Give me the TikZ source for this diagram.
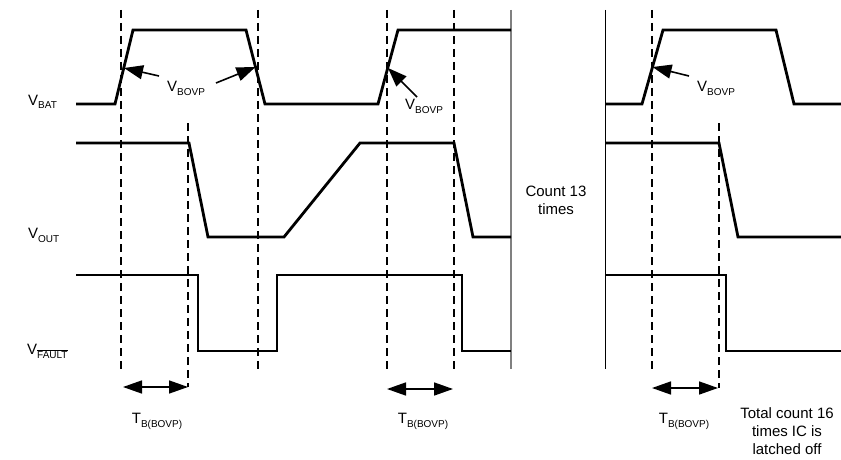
\documentclass[tikz,border=0pt]{standalone}
\usepackage{fontspec}
\setmainfont{Liberation Sans}
\usetikzlibrary{arrows.meta}
\newcommand{\sbs}[1]{\raisebox{-4pt}{\fontsize{10}{12}\selectfont #1}}
\begin{document}
\begin{tikzpicture}[x=1pt,y=-1pt,
  trace/.style={line width=2.8pt, line join=miter},
  guide/.style={line width=1.2pt, dash pattern=on 8pt off 5pt},
  lbl/.style={inner sep=0pt, anchor=base west, font=\fontsize{15}{18}\selectfont},
  tlbl/.style={inner sep=0pt, anchor=base, font=\fontsize{15}{18}\selectfont},
  note/.style={inner sep=0pt, anchor=north, align=center, font=\fontsize{15}{18}\selectfont},
  ptr/.style={line width=1.6pt, -{Triangle[length=19pt,width=14pt]}},
  spanarrow/.style={line width=1.6pt, {Triangle[length=19pt,width=13pt]}-{Triangle[length=19pt,width=13pt]}},
]
\useasboundingbox (0,0) rectangle (841,460);

% guide lines
\draw[guide] (121,10) -- (121,373);
\draw[guide] (188,123) -- (188,387);
\draw[guide] (258,10) -- (258,373);
\draw[guide] (387,10) -- (387,373);
\draw[guide] (454,10) -- (454,373);
\draw[guide] (652,10) -- (652,373);
\draw[guide] (719,123) -- (719,388);
\draw[line width=1.3pt, black!50] (511,10) -- (511,369);
\draw[line width=1pt] (605,10) -- (605,369);

% VBAT
\draw[trace] (76,104) -- (115,104) -- (133,30) -- (246,30) -- (265,104) -- (378,104) -- (398,30) -- (511,30);
\draw[trace] (605,104) -- (642,104) -- (663,30) -- (776,30) -- (794,104) -- (841,104);
% VOUT
\draw[trace] (76,143) -- (189,143) -- (208,237) -- (284,237) -- (360,143) -- (454,143) -- (473,237) -- (511,237);
\draw[trace] (605,143) -- (719,143) -- (738,237) -- (841,237);
% VFAULT
\draw[trace] (76,275) -- (198,275) -- (198,351) -- (277,351) -- (277,275) -- (462,275) -- (462,351) -- (511,351);
\draw[trace] (605,275) -- (726,275) -- (726,351) -- (841,351);

% labels
\node[lbl] (vbat) at (28,105) {V\sbs{BAT}};
\node[lbl] (vout) at (28,238) {V\sbs{OUT}};
\node[lbl] (vfault) at (27,354) {V\sbs{$\overline{\mbox{FAULT}}$}};
\node[lbl] (b1) at (167,92) {V\sbs{BOVP}};
\node[lbl] (b2) at (405,110) {V\sbs{BOVP}};
\node[lbl] (b3) at (697,92) {V\sbs{BOVP}};

\coordinate (t1) at (124,68);
\coordinate (t2) at (255.5,67);
\coordinate (t3) at (388,68);
\coordinate (t4) at (652.5,67);
\coordinate (s1) at (159,76);
\coordinate (s2) at (216,83);
\coordinate (s3) at (417,97);
\coordinate (s4) at (689,76);
\draw[ptr] (s1) -- (t1);
\draw[ptr] (s2) -- (t2);
\draw[ptr] (s3) -- (t3);
\draw[ptr] (s4) -- (t4);

% blanking time spans
\coordinate (a1) at (123,387); \coordinate (a2) at (188,387);
\coordinate (a3) at (387,389); \coordinate (a4) at (453,389);
\coordinate (a5) at (652,388); \coordinate (a6) at (718,388);
\draw[spanarrow] (a1) -- (a2);
\draw[spanarrow] (a3) -- (a4);
\draw[spanarrow] (a5) -- (a6);
\node[tlbl] (tb1) at (157,423) {T\sbs{B(BOVP)}};
\node[tlbl] (tb2) at (423,423) {T\sbs{B(BOVP)}};
\node[tlbl] (tb3) at (684,423) {T\sbs{B(BOVP)}};

\node[note] (cnt) at (556,186) {Count 13\\times};
\node[note] (tot) at (787,407) {Total count 16\\times IC is\\latched off};
\end{tikzpicture}
\end{document}
